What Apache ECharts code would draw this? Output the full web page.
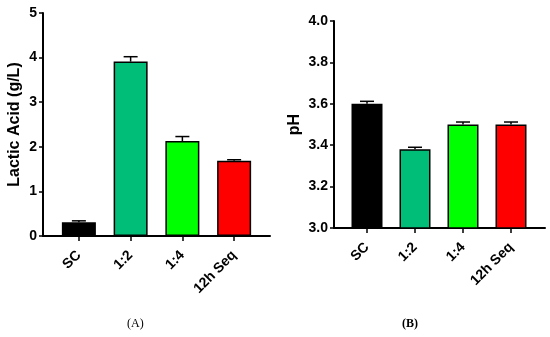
<!DOCTYPE html>
<html>
<head>
<meta charset="utf-8">
<script src="https://cdn.jsdelivr.net/npm/echarts@6/dist/echarts.min.js"></script>
<style>
html,body{margin:0;padding:0;background:#fff;}
#c{width:550px;height:337px;}
</style>
</head>
<body>
<div id="c"></div>
<script>
var categories = ['SC', '1:2', '1:4', '12h Seq'];
var lacticMean = [0.31, 3.91, 2.13, 1.69];
var lacticErr  = [0.03, 0.11, 0.10, 0.02];
var phMean = [3.60, 3.38, 3.50, 3.50];
var phErr  = [0.012, 0.010, 0.012, 0.012];
var barColors = ['#000000', '#00BE78', '#00FF00', '#FF0000'];
var lacticTicks = [0, 1, 2, 3, 4, 5];
var phTicks = [3.0, 3.2, 3.4, 3.6, 3.8, 4.0];

var FONT = 'Liberation Sans, Arial, sans-serif';
var chart = echarts.init(document.getElementById('c'), null, {renderer: 'canvas'});

function barData(vals) {
  return vals.map(function (v, i) {
    return {value: v, itemStyle: {color: barColors[i]}};
  });
}
function errData(means, errs) {
  return means.map(function (m, i) { return [i, m, errs[i]]; });
}
function errRender(params, api) {
  var i = api.value(0), m = api.value(1), e = api.value(2);
  var p0 = api.coord([i, m]);
  var p1 = api.coord([i, m + e]);
  var hw = 7;
  return {
    type: 'group',
    children: [
      {type: 'line', shape: {x1: p0[0], y1: p0[1], x2: p1[0], y2: p1[1]}, style: {stroke: '#000', lineWidth: 1.5}},
      {type: 'line', shape: {x1: p1[0] - hw, y1: p1[1], x2: p1[0] + hw, y2: p1[1]}, style: {stroke: '#000', lineWidth: 1.5}}
    ]
  };
}

var axisLine = {show: true, lineStyle: {color: '#000', width: 2}};
var yLabel = {color: '#000', fontWeight: 'bold', fontSize: 14, fontFamily: FONT, margin: 6};
var xLabel = {color: '#000', fontWeight: 'bold', fontSize: 14, fontFamily: FONT, rotate: 45, margin: 17, interval: 0};

var option = {
  animation: false,
  backgroundColor: '#fff',
  grid: [
    {left: 43, top: 13, width: 227, height: 223},   // A outer
    {left: 53, top: 13, width: 207, height: 223},   // A inner
    {left: 334, top: 21, width: 211, height: 207},  // B outer
    {left: 343, top: 21, width: 192, height: 207}   // B inner
  ],
  xAxis: [
    {type: 'category', gridIndex: 0, data: categories, axisLine: axisLine, axisTick: {show: false}, axisLabel: {show: false}},
    {type: 'category', gridIndex: 1, data: categories, axisLine: {show: false},
     axisTick: {show: true, alignWithLabel: true, length: 5, lineStyle: {color: '#000', width: 1.5}}, axisLabel: xLabel},
    {type: 'category', gridIndex: 2, data: categories, axisLine: axisLine, axisTick: {show: false}, axisLabel: {show: false}},
    {type: 'category', gridIndex: 3, data: categories, axisLine: {show: false},
     axisTick: {show: true, alignWithLabel: true, length: 5, lineStyle: {color: '#000', width: 1.5}}, axisLabel: xLabel}
  ],
  yAxis: [
    {type: 'value', gridIndex: 0, min: lacticTicks[0], max: lacticTicks[lacticTicks.length - 1], interval: 1,
     axisLine: axisLine, axisTick: {show: true, length: 4, lineStyle: {color: '#000', width: 1.5}},
     axisLabel: yLabel, splitLine: {show: false},
     name: 'Lactic Acid (g/L)', nameLocation: 'middle', nameGap: 20,
     nameTextStyle: {color: '#000', fontWeight: 'bold', fontSize: 16, fontFamily: FONT}},
    {type: 'value', gridIndex: 1, min: lacticTicks[0], max: lacticTicks[lacticTicks.length - 1], interval: 1, show: false},
    {type: 'value', gridIndex: 2, min: phTicks[0], max: phTicks[phTicks.length - 1], interval: 0.2,
     axisLine: axisLine, axisTick: {show: true, length: 4, lineStyle: {color: '#000', width: 1.5}},
     axisLabel: Object.assign({}, yLabel, {formatter: function (v) { return v.toFixed(1); }}), splitLine: {show: false},
     name: 'pH', nameLocation: 'middle', nameGap: 31,
     nameTextStyle: {color: '#000', fontWeight: 'bold', fontSize: 16, fontFamily: FONT}},
    {type: 'value', gridIndex: 3, min: phTicks[0], max: phTicks[phTicks.length - 1], interval: 0.2, show: false}
  ],
  series: [
    {type: 'bar', xAxisIndex: 1, yAxisIndex: 1, data: barData(lacticMean), barWidth: 34,
     itemStyle: {borderColor: '#000', borderWidth: 1.5}},
    {type: 'custom', xAxisIndex: 1, yAxisIndex: 1, data: errData(lacticMean, lacticErr), renderItem: errRender, z: 5},
    {type: 'bar', xAxisIndex: 3, yAxisIndex: 3, data: barData(phMean), barWidth: 31,
     itemStyle: {borderColor: '#000', borderWidth: 1.5}},
    {type: 'custom', xAxisIndex: 3, yAxisIndex: 3, data: errData(phMean, phErr), renderItem: errRender, z: 5}
  ],
  graphic: [
    {type: 'text', left: 127, top: 318, style: {text: '(A)', font: '12px "Liberation Serif", serif', fill: '#000'}},
    {type: 'text', left: 402, top: 318, style: {text: '(B)', font: 'bold 12px "Liberation Serif", serif', fill: '#000'}}
  ]
};
chart.setOption(option);
</script>
</body>
</html>
